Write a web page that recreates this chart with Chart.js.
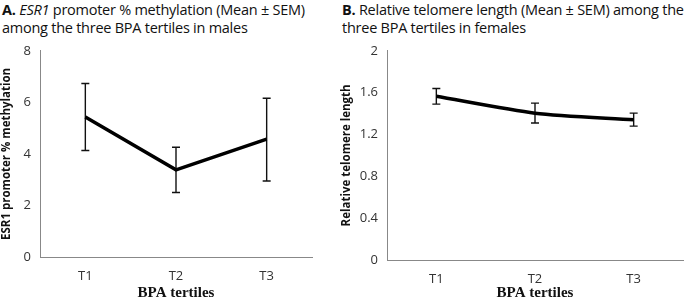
<!DOCTYPE html>
<html lang="en">
<head>
  <meta charset="UTF-8" />
  <title>ESR1 methylation and telomere length by BPA tertiles</title>
  <script src="https://cdn.jsdelivr.net/npm/chart.js"></script>
  <style>
    body { margin: 0; background: #fff; width: 685px; height: 302px; position: relative; overflow: hidden; font-family: "Open Sans", Lato, sans-serif; }
    .titulo { position: absolute; top: 1px; font-size: 14.5px; line-height: 18px; color: #111; letter-spacing: -0.25px; white-space: nowrap; }
    #tituloA { left: 2px; }
    #tituloB { left: 342px; }
    .painel { position: absolute; top: 38px; height: 264px; }
    #painelA { left: 0; width: 340px; }
    #painelB { left: 340px; width: 345px; }
  </style>
</head>
<body>
  <div class="titulo" id="tituloA"><b>A.</b> <i>ESR1</i> promoter % methylation (Mean ± SEM)<br>among the three BPA tertiles in males</div>
  <div class="titulo" id="tituloB"><b>B.</b> Relative telomere length (Mean ± SEM) among the<br>three BPA tertiles in females</div>
  <div class="painel" id="painelA"><canvas id="chartA"></canvas></div>
  <div class="painel" id="painelB"><canvas id="chartB"></canvas></div>

  <script>
    // dados
    const categorias = ['T1', 'T2', 'T3'];

    const esrMedia = [5.43, 3.38, 4.57];
    const esrMin = [4.13, 2.50, 2.95];
    const esrMax = [6.73, 4.26, 6.16];

    const telMedia = [1.565, 1.404, 1.34];
    const telMin = [1.49, 1.31, 1.28];
    const telMax = [1.64, 1.50, 1.404];

    // barras de erro desenhadas com as escalas do próprio Chart.js
    const barrasErro = {
      id: 'barrasErro',
      beforeDatasetsDraw(chart, args, opts) {
        const ctx = chart.ctx;
        const x = chart.scales.x, y = chart.scales.y;
        ctx.save();
        ctx.strokeStyle = '#111';
        ctx.lineWidth = 1.4;
        opts.min.forEach((lo, i) => {
          const px = x.getPixelForValue(i);
          const yLo = y.getPixelForValue(lo);
          const yHi = y.getPixelForValue(opts.max[i]);
          ctx.beginPath();
          ctx.moveTo(px, yLo); ctx.lineTo(px, yHi);
          ctx.moveTo(px - 4, yLo); ctx.lineTo(px + 4, yLo);
          ctx.moveTo(px - 4, yHi); ctx.lineTo(px + 4, yHi);
          ctx.stroke();
        });
        ctx.restore();
      }
    };

    function criarGrafico(id, media, min, max, cfg) {
      return new Chart(document.getElementById(id), {
        type: 'line',
        data: {
          labels: categorias,
          datasets: [{ data: media, borderColor: '#000', borderWidth: 3.5, pointRadius: 0, tension: cfg.tension, fill: false }]
        },
        options: {
          responsive: true,
          maintainAspectRatio: false,
          animation: false,
          layout: { padding: { top: 6, right: cfg.padRight, left: 0, bottom: 0 } },
          plugins: {
            legend: { display: false },
            tooltip: { enabled: false },
            barrasErro: { min, max }
          },
          scales: {
            x: {
              offset: true,
              grid: { display: false, drawTicks: false },
              border: { color: '#888', width: 1 },
              ticks: { color: '#333', font: { family: 'Open Sans', size: 13 }, padding: 11 },
              title: { display: true, text: 'BPA tertiles', color: '#111', font: { family: 'Liberation Serif', size: 15, weight: 'bold' }, padding: { top: 2, bottom: 0 } },
              afterFit: s => { s.height = cfg.xAltura; }
            },
            y: {
              min: 0, max: cfg.yMax,
              grid: { display: false, drawTicks: true, tickLength: 4, tickColor: '#888' },
              border: { color: '#888', width: 1 },
              ticks: { stepSize: cfg.passo, color: '#333', font: { family: 'Open Sans', size: 13 }, padding: 5, callback: cfg.formato },
              title: { display: true, text: cfg.tituloY, color: '#111', font: { family: 'Open Sans', size: 11.5, weight: 'bold' }, padding: { top: 0, bottom: 4 } },
              afterFit: s => { s.width = cfg.yLargura; }
            }
          }
        },
        plugins: [barrasErro]
      });
    }

    criarGrafico('chartA', esrMedia, esrMin, esrMax, {
      tension: 0, padRight: 28, xAltura: 45, yLargura: 40, yMax: 8, passo: 2,
      formato: v => v, tituloY: 'ESR1 promoter % methylation'
    });

    criarGrafico('chartB', telMedia, telMin, telMax, {
      tension: 0.25, padRight: 2, xAltura: 42, yLargura: 47, yMax: 2, passo: 0.4,
      formato: v => (v === 0 || v === 2) ? String(v) : v.toFixed(1), tituloY: 'Relative telomere length'
    });
  </script>
</body>
</html>
